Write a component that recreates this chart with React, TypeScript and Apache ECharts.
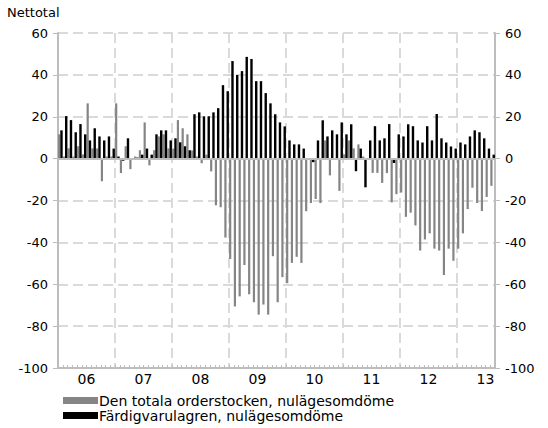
import React, { useEffect, useRef } from 'react';
import * as echarts from 'echarts';

const yearLabels = ['06', '07', '08', '09', '10', '11', '12', '13'];
const monthsPerYear = [12, 12, 12, 12, 12, 12, 12, 8];
const categories: string[] = [];
yearLabels.forEach((y, i) => {
  for (let m = 1; m <= monthsPerYear[i]; m++) categories.push(`20${y}-${String(m).padStart(2, '0')}`);
});

const seriesNames = ['Den totala orderstocken, nulägesomdöme', 'Färdigvarulagren, nulägesomdöme'];

// Den totala orderstocken (gray)
const orderStock = [
  11.6, 1, 4.9, 1, 5.9, 2, 26.4, 4.9, 4.9, -10.8, 1, 1,
  26.4, -6.9, 5.9, -5, 1, 4, 17.3, -3.2, 4, 10.6, 11.6, 4.9,
  4.8, 18.4, 14.5, 11.6, 3.9, 1, -2.2, 1.9, -6.1, -22.3, -23.2, -37.7,
  -47.9, -70.6, -65.8, -50.8, -64.8, -68.6, -74.5, -69.7, -74.5, -46.6, -68.6, -56.6,
  -59.5, -49.8, -46.9, -49.8, -25.1, -21.2, -19.3, -21.2, 8.7, -8, 0, -15.4,
  2, 8.7, 4.9, 6.8, 1, 0, -6.8, -6.8, -11.6, -6.9, -20.9, -17,
  -16.2, -27.8, -25.8, -31.9, -43.9, -38.6, -35.7, -43, -43.9, -55.6, -43, -48.8,
  -43, -35.7, -24.1, -13.9, -21.2, -25, -18.3, -13,
];

// Färdigvarulagren (black)
const finishedGoods = [
  13.5, 20.3, 18.4, 12.6, 16.5, 11.6, 8.7, 14.5, 10.6, 8.7, 10.6, 4.8,
  1, -1, 9.7, 0, 0.5, 1.9, 4.8, 1.9, 11.6, 13.5, 13.5, 8.7,
  9.7, 7.8, 5.9, 4, 21.2, 22.1, 20.2, 20.2, 22.1, 24.1, 35.1, 32.2,
  46.6, 40, 41.8, 48.6, 47.6, 37, 37, 31.3, 26.4, 21.2, 17.3, 15.4,
  8.7, 6.8, 6.8, 4.8, 0, -1.7, 8.7, 18.3, 10.6, 13.5, 11.6, 17.3,
  11.6, 16.4, -6, 4.8, -13.7, 8.7, 15.5, 8.7, 9.7, 16.5, -2.1, 11.6,
  10.6, 16.4, 15.5, 8.7, 7.7, 15.5, 8.7, 21.3, 9.7, 7.7, 5.8, 4.8,
  7.7, 6.8, 10.6, 13.5, 12.6, 9.7, 4.8, 1.9,
];

const yMin = -100;
const yMax = 60;
const yInterval = 20;

const FONT = '"DejaVu Sans", Verdana, sans-serif';
const AXIS_COLOR = '#bdbdbd';
const GRID_COLOR = '#dadada';

export default function App() {
  const ref = useRef<HTMLDivElement>(null);

  useEffect(() => {
    if (!ref.current) return;
    const chart = echarts.init(ref.current, undefined, { renderer: 'svg' });
    const total = categories.length;
    const axisLabel = { fontSize: 13, color: '#000', fontFamily: FONT };

    chart.setOption({
      animation: false,
      grid: { left: 58, right: 53, top: 33, bottom: 60, containLabel: false },
      graphic: [
        {
          type: 'text',
          left: 7,
          top: 6,
          style: { text: 'Nettotal', fontSize: 13, fontFamily: FONT, fill: '#000' },
        },
      ],
      legend: {
        orient: 'vertical',
        left: 63,
        top: 393,
        padding: 0,
        itemWidth: 35,
        itemHeight: 7,
        itemGap: 0,
        icon: 'rect',
        selectedMode: false,
        data: seriesNames,
        textStyle: { fontSize: 14, lineHeight: 15, color: '#000', fontFamily: FONT, padding: [0, 0, 0, -4] },
      },
      xAxis: [
        {
          type: 'category',
          data: categories,
          boundaryGap: true,
          axisLine: { show: true, onZero: false, lineStyle: { color: AXIS_COLOR, width: 2 } },
          axisTick: { show: true, inside: true, length: 3, interval: 0, lineStyle: { color: AXIS_COLOR } },
          axisLabel: { show: false },
          splitLine: {
            show: true,
            interval: (i: number) => i % 12 === 0,
            lineStyle: { color: GRID_COLOR, width: 2, type: [10, 5] },
          },
        },
        {
          type: 'value',
          min: 0,
          max: total,
          interval: 6,
          position: 'bottom',
          axisLine: { show: false, onZero: false },
          axisTick: { show: false },
          splitLine: { show: false },
          axisLabel: {
            ...axisLabel,
            fontSize: 14,
            margin: 4,
            showMaxLabel: false,
            formatter: (v: number) => (v % 12 === 6 ? yearLabels[(v - 6) / 12] ?? '' : ''),
          },
        },
      ],
      yAxis: [
        {
          type: 'value',
          min: yMin,
          max: yMax,
          interval: yInterval,
          position: 'left',
          axisLine: { show: true, onZero: false, lineStyle: { color: AXIS_COLOR, width: 2 } },
          axisTick: { show: true, length: 5, lineStyle: { color: AXIS_COLOR } },
          axisLabel: { ...axisLabel, margin: 10 },
          splitLine: { show: true, lineStyle: { color: GRID_COLOR, width: 2, type: [10, 5] } },
        },
        {
          type: 'value',
          min: yMin,
          max: yMax,
          interval: yInterval,
          position: 'right',
          axisLine: { show: true, onZero: false, lineStyle: { color: AXIS_COLOR, width: 2 } },
          axisTick: { show: true, length: 5, lineStyle: { color: AXIS_COLOR } },
          axisLabel: { ...axisLabel, margin: 10 },
          splitLine: { show: false },
        },
      ],
      series: [
        {
          name: seriesNames[0],
          type: 'bar',
          xAxisIndex: 0,
          yAxisIndex: 0,
          data: orderStock,
          barWidth: 2.2,
          barGap: '0%',
          itemStyle: { color: '#858585' },
          markLine: {
            silent: true,
            symbol: 'none',
            label: { show: false },
            lineStyle: { color: AXIS_COLOR, width: 2, type: 'solid' },
            data: [{ yAxis: 0 }],
          },
        },
        {
          name: seriesNames[1],
          type: 'bar',
          xAxisIndex: 0,
          yAxisIndex: 0,
          data: finishedGoods,
          barWidth: 2.4,
          barGap: '0%',
          itemStyle: { color: '#000' },
        },
      ],
    });

    return () => chart.dispose();
  }, []);

  return (
    <div
      ref={ref}
      style={{ position: 'fixed', left: 0, top: 0, width: 548, height: 428, background: '#fff' }}
    />
  );
}
